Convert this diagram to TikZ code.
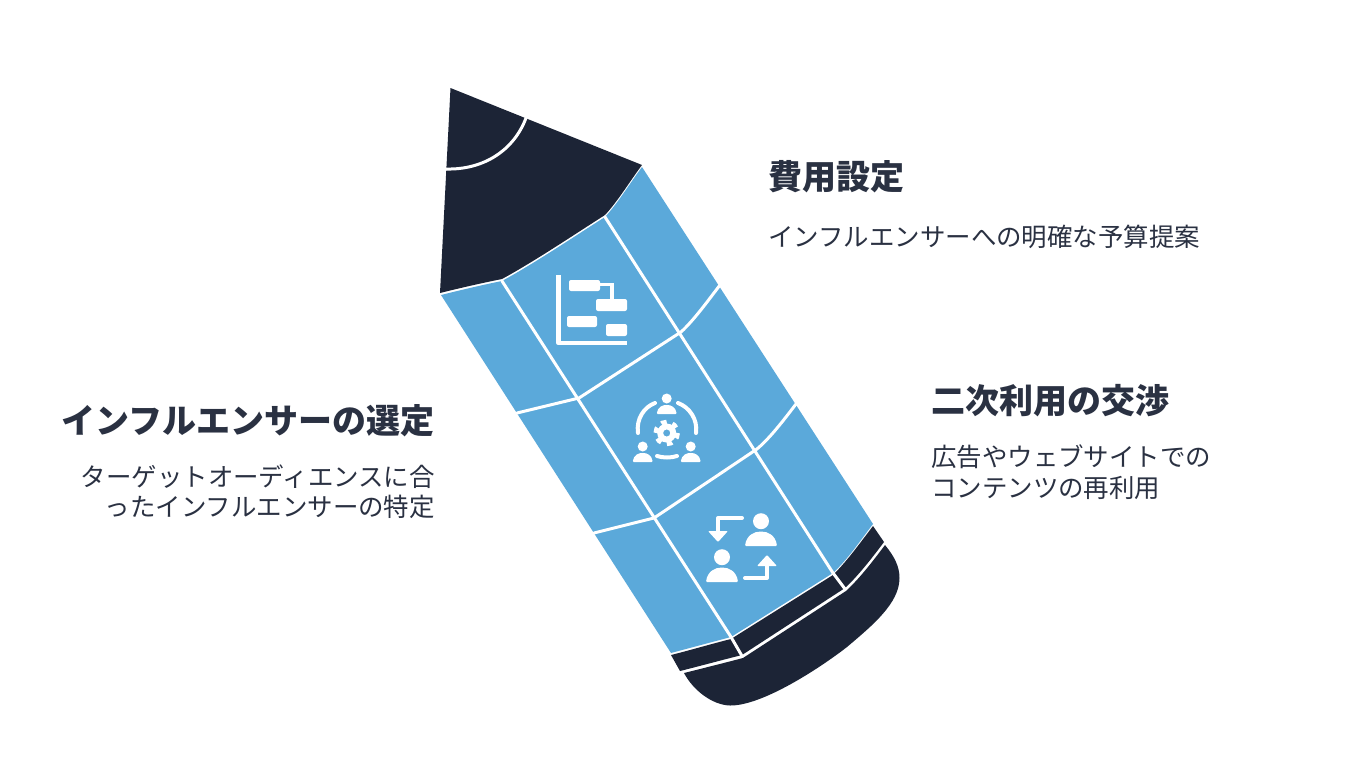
\documentclass[tikz,border=0pt]{standalone}
\usepackage{fontspec}
\setmainfont{Noto Sans CJK JP}
\definecolor{ink}{HTML}{1C2436}
\definecolor{bluefill}{HTML}{5BA9DA}
\definecolor{txt}{HTML}{2A3142}
\tikzset{
 capshape/.style={fill=ink,draw=none},
 seg/.style={fill=bluefill,draw=none},
 wline/.style={draw=white,line width=3pt,line cap=round,line join=round},
 iconw/.style={draw=white,line width=4.4pt,line join=round},
 iconarc/.style={draw=white,line width=4pt,line cap=round},
 head/.style={font=\fontsize{34}{40}\selectfont\bfseries,text=txt,inner sep=0pt},
 body/.style={font=\fontsize{25.45}{33}\selectfont,text=txt,inner sep=0pt},
}
\newcommand{\personicon}[3]{%
 \fill[white] (#1,#2-#3*0.55) circle[radius=#3*0.5];
 \fill[white,rounded corners=1pt] (#1-#3,#2+#3) .. controls (#1-#3*0.9,#2+#3*0.3) and (#1-#3*0.4,#2+#3*0.1) .. (#1,#2+#3*0.1)
   .. controls (#1+#3*0.4,#2+#3*0.1) and (#1+#3*0.9,#2+#3*0.3) .. (#1+#3,#2+#3) -- cycle;}
\begin{document}
\begin{tikzpicture}[x=1pt,y=-1pt]
\useasboundingbox (0,0) rectangle (1350,780);
\fill[white] (0,0) rectangle (1350,780);
% pencil tip
\fill[capshape] (450.5,88) -- (642,165) .. controls (630,181) and (618,201) .. (605,215)
  .. controls (572,236) and (535,261) .. (502,279) .. controls (482,283) and (460,288) .. (440,293) -- cycle;
\draw[wline] (526,118) .. controls (514,150) and (484,170) .. (446,169);
% body
\fill[seg] (642,167) -- (873,524) .. controls (860,541) and (848,559) .. (833,573)
  -- (731,637) -- (671,653) -- (441,295) .. controls (461,290) and (482,285) .. (502,281)
  .. controls (535,263) and (572,238) .. (605,217) .. controls (618,203) and (630,183) .. (642,167) -- cycle;
\draw[wline] (605,217) -- (833,573);
\draw[wline] (502,281) -- (731,637);
\draw[wline] (720,285) .. controls (707,302) and (694,320) .. (681,332) -- (579,398) -- (517,413);
\draw[wline] (796,404) .. controls (783,421) and (770,438) .. (757,449) -- (654,518) -- (594,533);
% bands
\fill[capshape] (873,526) -- (884,542) .. controls (872,558) and (858,576) .. (845,588)
  -- (742,655) .. controls (722,660) and (700,666) .. (680,671) -- (671,655)
  .. controls (691,650) and (711,644) .. (731,639) -- (833,575) .. controls (848,560) and (860,543) .. (873,526) -- cycle;
\draw[wline] (833,573) -- (845,589);
\draw[wline] (731,637) -- (742,656);
% eraser
\fill[capshape] (885,545) .. controls (894,556) and (899.5,566) .. (899.5,578)
  .. controls (899.5,603) and (873,625) .. (847,647) .. controls (820,668) and (762,706) .. (730,705.5)
  .. controls (712,705) and (693,690) .. (684,673)
  .. controls (704,668) and (724,663) .. (743,658) -- (846,591) .. controls (860,578) and (873,561) .. (885,545) -- cycle;
% icon 1
\draw[iconw] (558.5,275) -- (558.5,343) -- (627,343);
\fill[white,rounded corners=2pt] (569,280) rectangle (600,291);
\draw[white,line width=3.6pt] (598,284.5) -- (612,284.5) -- (612,300);
\fill[white,rounded corners=2pt] (596,299) rectangle (627,311);
\fill[white,rounded corners=2pt] (567,316) rectangle (597,327);
\fill[white,rounded corners=2pt] (606,324) rectangle (627,336);
% icon 2
\personicon{666.7}{404}{10}
\personicon{642.7}{452}{10}
\personicon{690.7}{452}{10}
\draw[iconarc] (655,403) .. controls (644,407) and (636,419) .. (638,433);
\draw[iconarc] (678,403) .. controls (689,407) and (698,419) .. (696,433);
\draw[iconarc] (657,456) .. controls (663,458) and (671,458) .. (677,456);
\draw[white,line width=4.5pt,dash pattern=on 5.5pt off 6pt] (666.7,433) circle[radius=11];
\fill[white,even odd rule] (666.7,433) circle[radius=9.5] (666.7,433) circle[radius=3.6];
% icon 3
\personicon{761}{530}{16}
\personicon{722}{566}{16}
\draw[iconarc,line join=round] (742,518) -- (718,518) -- (718,532);
\fill[white,rounded corners=1pt] (708,531) -- (728,531) -- (718,542) -- cycle;
\draw[iconarc,line join=round] (745,578) -- (767,578) -- (767,565);
\fill[white,rounded corners=1pt] (757,566) -- (777,566) -- (767,555) -- cycle;
% texts
\node[head,anchor=west] (t1) at (768,177) {費用設定};
\node[body,anchor=west] (b1) at (768,237) {インフルエンサーへの明確な予算提案};
\node[head,anchor=west] (t2) at (931,401) {二次利用の交渉};
\node[body,anchor=west] (b2a) at (931,457) {広告やウェブサイトでの};
\node[body,anchor=west] (b2b) at (931,488) {コンテンツの再利用};
\node[head,anchor=east] (t3) at (435,421) {インフルエンサーの選定};
\node[body,anchor=east] (b3a) at (435,477) {ターゲットオーディエンスに合};
\node[body,anchor=east] (b3b) at (435,507) {ったインフルエンサーの特定};
\end{tikzpicture}
\end{document}
